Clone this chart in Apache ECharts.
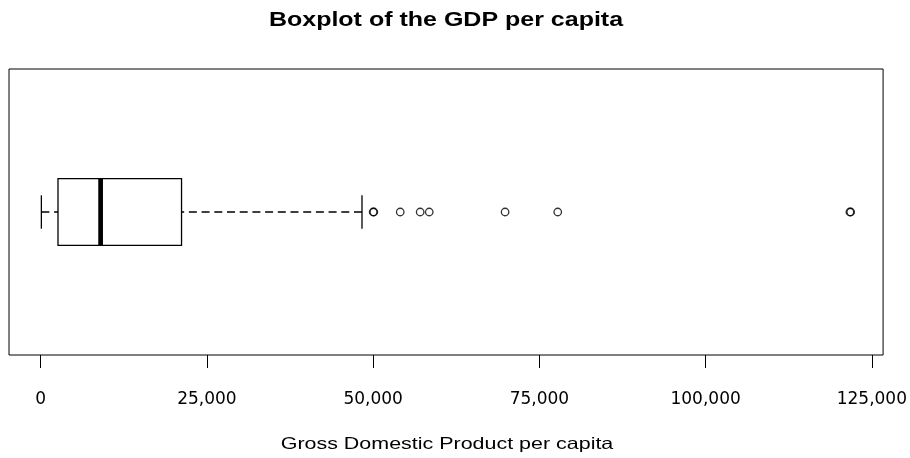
<!DOCTYPE html>
<html>
<head>
<meta charset="utf-8">
<script src="https://cdn.jsdelivr.net/npm/echarts@6/dist/echarts.min.js"></script>
<style>
  html, body { margin: 0; padding: 0; background: #fff; }
  #chart { width: 910px; height: 458px; }
</style>
</head>
<body>
<div id="chart"></div>
<script>
// ---- data ----
const categories = ['GDP per capita'];
// [min whisker, Q1, median, Q3, max whisker]
const boxStats = [[100, 2600, 9010, 21180, 48320]];
const outliers = [50000, 50100, 54070, 57070, 58430, 69840, 77760, 121700, 121820];
const tickValues = [0, 25000, 50000, 75000, 100000, 125000];
const titleText = 'Boxplot of the GDP per capita';
const xAxisTitle = 'Gross Domestic Product per capita';

// R-style axis range: data range extended by 4% on both sides
const allVals = boxStats.flat().concat(outliers);
const dMin = Math.min.apply(null, allVals);
const dMax = Math.max.apply(null, allVals);
const ext = (dMax - dMin) * 0.04;

const chart = echarts.init(document.getElementById('chart'), null, { renderer: 'canvas' });

const option = {
  animation: false,
  backgroundColor: '#fff',
  grid: {
    left: 9, right: 26, top: 69, bottom: 103,
    show: true, borderColor: '#000', borderWidth: 1, backgroundColor: 'transparent'
  },
  graphic: [
    {
      type: 'text', x: 446, y: 20, scaleX: 1.25,
      style: {
        text: titleText, fill: '#000',
        font: 'bold 20px "Liberation Sans", Arial, sans-serif',
        align: 'center', verticalAlign: 'middle'
      }
    },
    {
      type: 'text', x: 447, y: 444.5, scaleX: 1.3,
      style: {
        text: xAxisTitle, fill: '#000',
        font: '16.5px "Liberation Sans", Arial, sans-serif',
        align: 'center', verticalAlign: 'middle'
      }
    }
  ],
  xAxis: {
    type: 'value',
    min: dMin - ext,
    max: dMax + ext,
    axisLine: { show: false },
    splitLine: { show: false },
    axisTick: {
      show: true, inside: false, length: 13,
      customValues: tickValues,
      lineStyle: { color: '#000', width: 1 }
    },
    axisLabel: {
      customValues: tickValues,
      formatter: v => Number(v).toLocaleString('en-US'),
      fontFamily: 'DejaVu Sans', fontSize: 17, color: '#000',
      margin: 36
    }
  },
  yAxis: {
    type: 'category',
    data: categories,
    show: false,
    boundaryGap: true
  },
  series: [
    {
      type: 'custom',
      data: boxStats.map((s, i) => [i].concat(s)),
      encode: { x: [1, 2, 3, 4, 5], y: 0 },
      silent: true,
      renderItem: function (params, api) {
        const cat = api.value(0);
        const pMin = api.coord([api.value(1), cat]);
        const pQ1 = api.coord([api.value(2), cat]);
        const pMed = api.coord([api.value(3), cat]);
        const pQ3 = api.coord([api.value(4), cat]);
        const pMax = api.coord([api.value(5), cat]);
        const band = api.size([0, 1])[1];
        const bh = band * 0.234;
        const yc = pMed[1];
        const cap = bh / 2;
        const stroke = '#000';
        const lw = 1.3;
        return {
          type: 'group',
          children: [
            { type: 'line', shape: { x1: pMin[0], y1: yc, x2: pQ1[0], y2: yc },
              style: { stroke: stroke, lineWidth: lw, lineDash: [8, 4.7] } },
            { type: 'line', shape: { x1: pMax[0], y1: yc, x2: pQ3[0], y2: yc },
              style: { stroke: stroke, lineWidth: lw, lineDash: [8, 4.7] } },
            { type: 'line', shape: { x1: pMin[0], y1: yc - cap / 2, x2: pMin[0], y2: yc + cap / 2 },
              style: { stroke: stroke, lineWidth: lw } },
            { type: 'line', shape: { x1: pMax[0], y1: yc - cap / 2, x2: pMax[0], y2: yc + cap / 2 },
              style: { stroke: stroke, lineWidth: lw } },
            { type: 'rect', shape: { x: pQ1[0], y: yc - bh / 2, width: pQ3[0] - pQ1[0], height: bh },
              style: { fill: '#fff', stroke: stroke, lineWidth: lw } },
            { type: 'line', shape: { x1: pMed[0], y1: yc - bh / 2, x2: pMed[0], y2: yc + bh / 2 },
              style: { stroke: stroke, lineWidth: 4.7 } }
          ]
        };
      }
    },
    {
      type: 'scatter',
      data: outliers.map(v => [v, 0]),
      symbol: 'circle',
      symbolSize: 7.5,
      silent: true,
      itemStyle: { color: 'rgba(255,255,255,0)', borderColor: '#000', borderWidth: 1.3 },
      emphasis: { disabled: true }
    }
  ]
};

chart.setOption(option);
</script>
</body>
</html>
